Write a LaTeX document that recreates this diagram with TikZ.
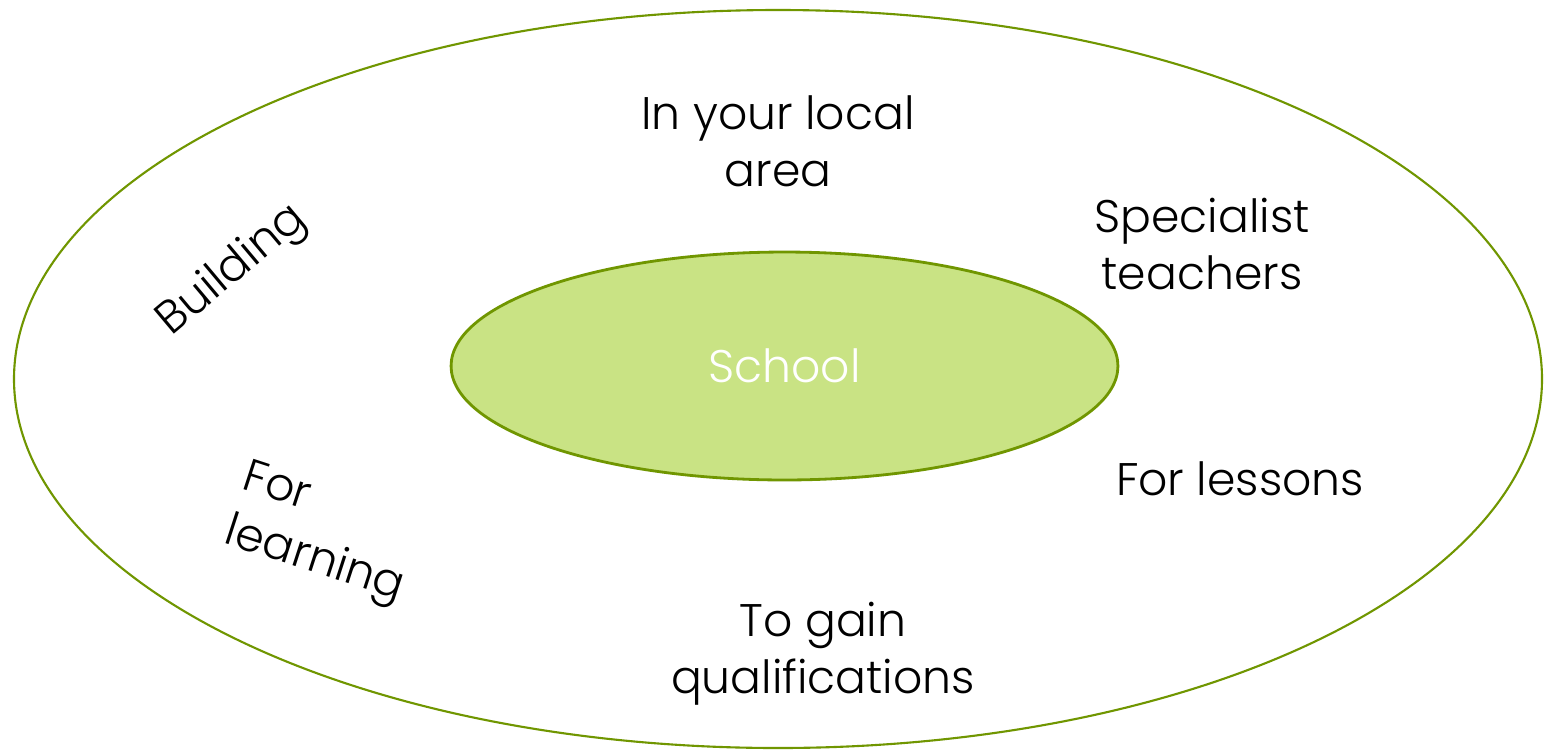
\documentclass[tikz,border=0pt]{standalone}
\usepackage{fontspec}
\setmainfont{Poppins Light}
\usetikzlibrary{shapes.geometric}
\definecolor{olive}{RGB}{112,150,0}
\definecolor{lightgreen}{RGB}{201,227,132}
\begin{document}
\begin{tikzpicture}[x=0.02cm,y=-0.02cm,
  lbl/.style={font=\fontsize{26}{32.5}\selectfont, align=center, inner sep=0pt, text=black}]
\useasboundingbox (0,0) rectangle (1544,751);
\fill[white] (0,0) rectangle (1544,751);
\draw[olive, line width=1.2pt] (778,379) ellipse [x radius=764, y radius=369];
\node[ellipse, draw=olive, fill=lightgreen, line width=1.6pt, minimum width=13.34cm, minimum height=4.56cm, inner sep=0pt, font=\fontsize{26}{32.5}\selectfont, text=white] (school) at (784.5,366) {School};
\node[lbl] (local) at (778,141) {In your local\\area};
\node[lbl] (spec) at (1202,244) {Specialist\\teachers};
\node[lbl] (lessons) at (1240,479) {For lessons};
\node[lbl] (gain) at (823,654) {To gain\\qualifications};
\node[lbl, rotate=40] (building) at (233,271) {Building};
\node[lbl, align=left, rotate=-18] (learning) at (323,535) {For\\learning};
\end{tikzpicture}
\end{document}
